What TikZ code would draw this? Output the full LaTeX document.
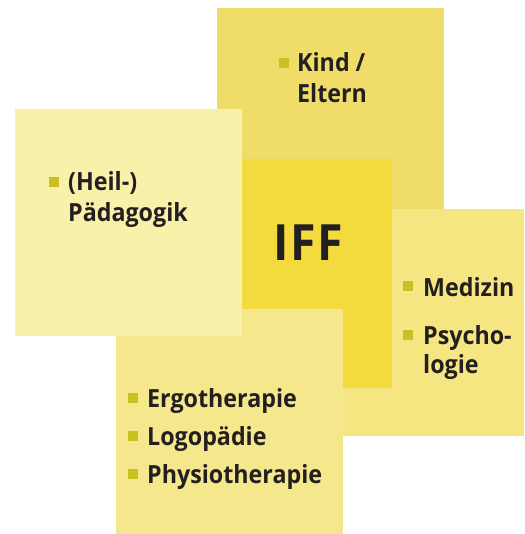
\documentclass[tikz,border=0pt]{standalone}
\usepackage{fontspec}
\setmainfont{Open Sans}[BoldFont={* Bold}, FakeStretch=0.93]
\definecolor{topc}{HTML}{F0DD69}
\definecolor{leftc}{HTML}{F9F0A9}
\definecolor{centc}{HTML}{F3DB3E}
\definecolor{rightc}{HTML}{F5E681}
\definecolor{botc}{HTML}{F5E78B}
\definecolor{bulc}{HTML}{C9C024}
\definecolor{txt}{HTML}{231F20}
\tikzset{
  lbl/.style={anchor=base west, inner sep=0pt, text=txt, font=\fontsize{25}{28}\selectfont\bfseries},
  bul/.style={fill=bulc, minimum size=10pt, inner sep=0pt, anchor=north west},
}
\begin{document}
\begin{tikzpicture}[x=1pt,y=-1pt]
\useasboundingbox (0,0) rectangle (524,534);
\fill[topc] (217,8) rectangle (444,235);
\fill[rightc] (298,209) rectangle (524,436);
\fill[centc] (242,159) rectangle (392,388);
\fill[botc] (116,309) rectangle (343,536);
\fill[leftc] (15,109) rectangle (242,336);
% IFF
\node[lbl, font=\fontsize{50}{56}\selectfont\bfseries\addfontfeatures{LetterSpace=3}, anchor=base west] (iff) at (273,260) {IFF};
% Kind / Eltern
\node[bul] (b1) at (279,58) {};
\node[lbl] (t1a) at (297,72) {Kind /};
\node[lbl] (t1b) at (297,103) {Eltern};
% Heil-Paedagogik
\node[bul] (b2) at (49,177) {};
\node[lbl] (t2a) at (68,191) {(Heil-)};
\node[lbl] (t2b) at (68,222) {Pädagogik};
% Medizin / Psychologie
\node[bul] (b3) at (403,281) {};
\node[lbl] (t3) at (423,296) {Medizin};
\node[bul] (b4) at (403,330) {};
\node[lbl] (t4a) at (423,344) {Psycho-};
\node[lbl] (t4b) at (423,373) {logie};
% bottom list
\node[bul] (b5) at (128,393) {};
\node[lbl] (t5) at (147,407) {Ergotherapie};
\node[bul] (b6) at (128,431) {};
\node[lbl] (t6) at (147,445) {Logopädie};
\node[bul] (b7) at (128,469) {};
\node[lbl] (t7) at (147,483) {Physiotherapie};
\end{tikzpicture}
\end{document}
